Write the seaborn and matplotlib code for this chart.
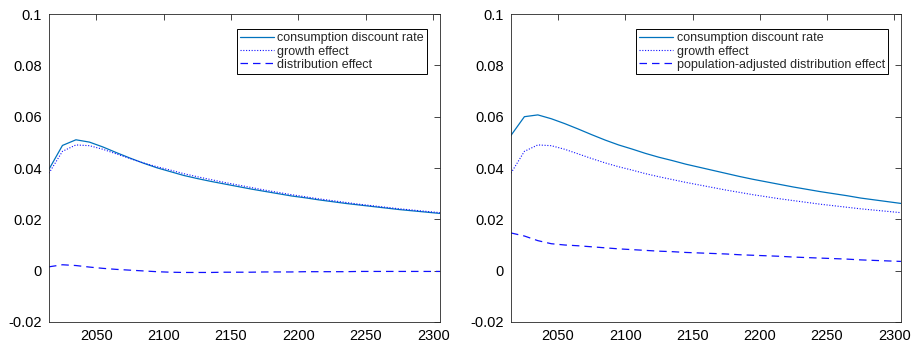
import numpy as np
import pandas as pd
import seaborn as sns
import matplotlib
matplotlib.use("Agg")
import matplotlib.pyplot as plt
from matplotlib.ticker import FuncFormatter

years = list(range(2015, 2306, 10))

growth = [0.0380, 0.0465, 0.0490, 0.0487, 0.0473, 0.0455, 0.0437, 0.0420, 0.0405,
          0.0392, 0.0378, 0.0366, 0.0355, 0.0344, 0.0334, 0.0324, 0.0314, 0.0305,
          0.0296, 0.0288, 0.0280, 0.0273, 0.0266, 0.0259, 0.0253, 0.0247, 0.0241,
          0.0236, 0.0231, 0.0226]

dist_left = [0.0015, 0.0023, 0.0020, 0.0014, 0.0009, 0.0005, 0.0002, -0.0001, -0.0004,
             -0.0006, -0.0007, -0.0007, -0.0007, -0.0006, -0.0006, -0.0006, -0.0005, -0.0005,
             -0.0005, -0.0004, -0.0004, -0.0004, -0.0004, -0.0003, -0.0003, -0.0003, -0.0003,
             -0.0003, -0.0003, -0.0003]

cons_left = [0.0395, 0.0488, 0.0510, 0.0501, 0.0482, 0.0460, 0.0439, 0.0419, 0.0401,
             0.0386, 0.0371, 0.0359, 0.0348, 0.0338, 0.0328, 0.0318, 0.0309, 0.0300,
             0.0291, 0.0284, 0.0276, 0.0269, 0.0262, 0.0256, 0.0250, 0.0244, 0.0238,
             0.0233, 0.0228, 0.0223]

dist_right = [0.0147, 0.0135, 0.0117, 0.0105, 0.0100, 0.0097, 0.0093, 0.0089, 0.0085,
              0.0082, 0.0079, 0.0076, 0.0074, 0.0071, 0.0069, 0.0067, 0.0065, 0.0062,
              0.0060, 0.0058, 0.0056, 0.0053, 0.0051, 0.0049, 0.0047, 0.0045, 0.0042,
              0.0040, 0.0038, 0.0036]

cons_right = [0.0527, 0.0600, 0.0607, 0.0592, 0.0573, 0.0552, 0.0530, 0.0509, 0.0490,
              0.0474, 0.0457, 0.0442, 0.0429, 0.0415, 0.0403, 0.0391, 0.0379, 0.0367,
              0.0356, 0.0346, 0.0336, 0.0326, 0.0317, 0.0308, 0.0300, 0.0292, 0.0283,
              0.0276, 0.0269, 0.0262]

sns.set_style("white")
plt.rcParams['font.family'] = ['Liberation Sans', 'DejaVu Sans']
plt.rcParams['axes.linewidth'] = 0.6

dark = (0.15, 0.15, 0.15)
c_cons = '#0072BD'
c_blue = '#1010ff'

fig = plt.figure(figsize=(9.17, 3.46), dpi=100)
ax1 = fig.add_axes([0.0534, 0.0694, 0.4264, 0.890])
ax2 = fig.add_axes([0.5572, 0.0694, 0.4253, 0.890])


def draw(ax, cons, grow, dist, dist_label):
    df = pd.DataFrame({'year': years, 'cons': cons, 'growth': grow, 'dist': dist})
    sns.lineplot(data=df, x='year', y='cons', ax=ax, color=c_cons, lw=0.9,
                 label='consumption discount rate')
    sns.lineplot(data=df, x='year', y='growth', ax=ax, color=c_blue, lw=0.8,
                 linestyle=(0, (1, 1.5)), label='growth effect')
    sns.lineplot(data=df, x='year', y='dist', ax=ax, color=c_blue, lw=0.9,
                 linestyle=(0, (6, 4)), label=dist_label)
    ax.set_xlim(2015, 2305)
    ax.set_ylim(-0.02, 0.1)
    ax.set_xticks([2050, 2100, 2150, 2200, 2250, 2300])
    ax.set_yticks([-0.02, 0, 0.02, 0.04, 0.06, 0.08, 0.1])
    ax.yaxis.set_major_formatter(FuncFormatter(lambda v, p: f"{v:g}"))
    ax.set_xlabel('')
    ax.set_ylabel('')
    ax.tick_params(direction='in', top=True, right=True, length=4, width=0.6,
                   labelsize=10.5, colors=dark, labelcolor='black', pad=5)
    for s in ax.spines.values():
        s.set_color(dark)
    leg = ax.legend(loc='upper right', bbox_to_anchor=(0.967, 0.951), fontsize=9,
                    handlelength=2.7, handletextpad=0.3, borderpad=0.25,
                    labelspacing=0.1, fancybox=False, framealpha=1,
                    borderaxespad=0)
    leg.get_frame().set_edgecolor('black')
    leg.get_frame().set_linewidth(0.7)


draw(ax1, cons_left, growth, dist_left, 'distribution effect')
draw(ax2, cons_right, growth, dist_right, 'population-adjusted distribution effect')

fig.savefig('out.png', dpi=100)
